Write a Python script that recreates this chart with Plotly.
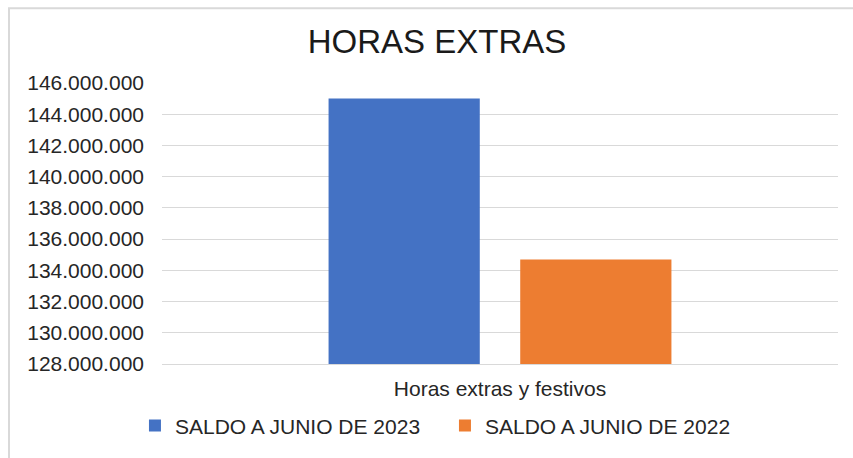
import plotly.graph_objects as go

categories = ["Horas extras y festivos"]
series_names = ["SALDO A JUNIO DE 2023", "SALDO A JUNIO DE 2022"]
values_2023 = [145000000]
values_2022 = [134700000]
colors = ["#4472C4", "#ED7D31"]

fig = go.Figure()
for name, vals, col in zip(series_names, [values_2023, values_2022], colors):
    fig.add_trace(go.Bar(x=categories, y=vals, name=name, marker=dict(color=col, line=dict(width=0))))

font_family = "Liberation Sans, Arial, sans-serif"
text_color = "#262626"
grid = "#d9d9d9"

W, H = 853, 458
fig.update_layout(
    width=W, height=H,
    margin=dict(l=162, r=15, t=83, b=89),
    paper_bgcolor="white", plot_bgcolor="white",
    separators=",.",
    barmode="group", bargap=0.433, bargroupgap=0.211,
    font=dict(family=font_family, color=text_color),
    title=dict(text="HORAS EXTRAS", x=437 / W, xref="container", xanchor="center",
               y=1 - 41 / H, yref="container", yanchor="middle",
               font=dict(size=33, color="#1a1a1a", family=font_family)),
    showlegend=True,
    legend=dict(orientation="h", x=-0.040, xanchor="left", y=-0.2205, yanchor="middle",
                font=dict(size=21, color=text_color), itemwidth=30, traceorder="normal",
                entrywidth=265, entrywidthmode="pixels"),
    yaxis=dict(range=[128000000, 146000000], dtick=2000000, tickformat=",d",
               showgrid=True, gridcolor=grid, gridwidth=1.3, zeroline=False, showline=False,
               ticks="", ticklabelstandoff=17, tickfont=dict(size=21, color=text_color)),
    xaxis=dict(showline=True, linecolor=grid, linewidth=1.3, ticks="", showgrid=False,
               ticklabelstandoff=6, tickfont=dict(size=21, color=text_color)),
    shapes=[dict(type="rect", xref="paper", yref="paper",
                 x0=(9 - 162) / 676, x1=(880 - 162) / 676,
                 y0=(369 - 480) / 286, y1=(369 - 7) / 286,
                 line=dict(color=grid, width=2), fillcolor="rgba(0,0,0,0)", layer="below")],
)

fig.write_html(
    "out.html",
    config={"displayModeBar": False},
    post_script="document.body.style.margin='0';document.body.style.overflow='hidden';",
)
